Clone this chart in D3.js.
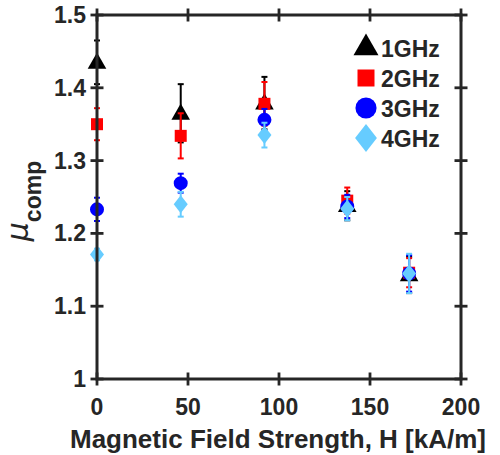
<!DOCTYPE html>
<html>
<head>
<meta charset="utf-8">
<script src="https://cdn.jsdelivr.net/npm/d3@7"></script>
<style>
  body { margin: 0; background: #fff; }
  text { font-family: "Liberation Sans", Arial, sans-serif; font-weight: bold; fill: #262626; }
</style>
</head>
<body>
<div id="chart"></div>
<script>
const fieldH = [0, 46, 92, 137.5, 171.5];
const series = ['1GHz', '2GHz', '3GHz', '4GHz'];
const mu1 = [1.435, 1.365, 1.379, 1.238, 1.143];
const mu2 = [1.350, 1.334, 1.378, 1.245, 1.146];
const mu3 = [1.233, 1.269, 1.356, 1.237, 1.145];
const mu4 = [1.171, 1.240, 1.335, 1.234, 1.145];
const err1 = [0.030, 0.040, 0.036, 0.020, 0.025];
const err2 = [0.022, 0.031, 0.030, 0.018, 0.020];
const err3 = [0.016, 0.013, 0.015, 0.016, 0.025];
const err4 = [0.008, 0.017, 0.017, 0.016, 0.027];
const xTicks = [0, 50, 100, 150, 200];
const yTicks = [1, 1.1, 1.2, 1.3, 1.4, 1.5];

const W = 500, H = 455;
const m = { left: 97, right: 39, top: 15, bottom: 76 };

const svg = d3.select('#chart').append('svg')
    .attr('width', W).attr('height', H);

const x = d3.scaleLinear().domain([0, 200]).range([m.left, W - m.right]);
const y = d3.scaleLinear().domain([1, 1.5]).range([H - m.bottom, m.top]);

const axisColor = '#262626';

// marker look per series
const styles = [
    { color: '#000000', shape: d3.symbolTriangle, size: 150, big: 270 },
    { color: '#ff0000', shape: d3.symbolSquare, size: 144, big: 289 },
    { color: '#0000ff', shape: d3.symbolCircle, size: 154, big: 350 },
    { color: '#66ccff', shape: 'diamond', size: 9, big: 14 }
];
const values = [mu1, mu2, mu3, mu4];
const errors = [err1, err2, err3, err4];

function markerPath(st, big) {
    if (st.shape === 'diamond') {
        const s = big ? st.big : st.size;
        const w = s * 0.78, h = s;
        return `M0,${-h}L${w},0L0,${h}L${-w},0Z`;
    }
    return d3.symbol().type(st.shape).size(big ? st.big : st.size)();
}

// points with error bars
series.forEach((name, i) => {
    const st = styles[i];
    const g = svg.append('g');
    const pts = fieldH.map((h, j) => ({ h, v: values[i][j], e: errors[i][j] }));
    const eb = g.selectAll('g.eb').data(pts).enter().append('g')
        .attr('stroke', st.color).attr('stroke-width', 2);
    eb.append('line')
        .attr('x1', d => x(d.h)).attr('x2', d => x(d.h))
        .attr('y1', d => y(d.v - d.e)).attr('y2', d => y(d.v + d.e));
    eb.append('line')
        .attr('x1', d => x(d.h) - 3).attr('x2', d => x(d.h) + 3)
        .attr('y1', d => y(d.v + d.e)).attr('y2', d => y(d.v + d.e));
    eb.append('line')
        .attr('x1', d => x(d.h) - 3).attr('x2', d => x(d.h) + 3)
        .attr('y1', d => y(d.v - d.e)).attr('y2', d => y(d.v - d.e));
    g.selectAll('path').data(pts).enter().append('path')
        .attr('d', markerPath(st, false))
        .attr('transform', d => `translate(${x(d.h)},${y(d.v) + (st.shape === d3.symbolTriangle ? 1 : 0)})`)
        .attr('fill', st.color);
});

// box + ticks crossing the lines
const x0 = x(0), x1 = x(200), y0 = y(1), y1 = y(1.5);
svg.append('rect')
    .attr('x', x0).attr('y', y1).attr('width', x1 - x0).attr('height', y0 - y1)
    .attr('fill', 'none').attr('stroke', axisColor).attr('stroke-width', 3);

const tl = 6.5;
const tk = svg.append('g').attr('stroke', axisColor).attr('stroke-width', 2.8);
xTicks.forEach(t => {
    tk.append('line').attr('x1', x(t)).attr('x2', x(t)).attr('y1', y0 + tl).attr('y2', y0 - tl);
    tk.append('line').attr('x1', x(t)).attr('x2', x(t)).attr('y1', y1 - tl).attr('y2', y1 + tl);
});
yTicks.forEach(t => {
    tk.append('line').attr('x1', x0 - tl).attr('x2', x0 + tl).attr('y1', y(t)).attr('y2', y(t));
    tk.append('line').attr('x1', x1 + tl).attr('x2', x1 - tl).attr('y1', y(t)).attr('y2', y(t));
});

svg.append('g').selectAll('text').data(xTicks).enter().append('text')
    .attr('x', d => x(d)).attr('y', 415)
    .attr('text-anchor', 'middle').attr('font-size', 23)
    .text(d => d);

svg.append('g').selectAll('text').data(yTicks).enter().append('text')
    .attr('x', x0 - 11).attr('y', d => y(d) + 8)
    .attr('text-anchor', 'end').attr('font-size', 23)
    .text(d => d === 1 ? '1' : d.toFixed(1));

// axis titles
svg.append('text')
    .attr('x', 278).attr('y', 448)
    .attr('text-anchor', 'middle').attr('font-size', 26)
    .text('Magnetic Field Strength, H [kA/m]');

const yl = svg.append('text')
    .attr('transform', `translate(28,${(y0 + y1) / 2 + 4}) rotate(-90)`)
    .attr('text-anchor', 'middle');
yl.append('tspan').attr('font-size', 30).attr('font-weight', 'normal')
    .attr('font-family', '"DejaVu Sans", sans-serif')
    .attr('font-style', 'italic').text('μ');
yl.append('tspan').attr('font-size', 23).attr('dy', 13).text('comp');

// legend
const lg = svg.append('g');
series.forEach((name, i) => {
    const ly = 48 + i * 30;
    lg.append('path')
        .attr('d', markerPath(styles[i], true))
        .attr('transform', `translate(366,${ly})`)
        .attr('fill', styles[i].color);
    lg.append('text')
        .attr('x', 381).attr('y', ly + 9)
        .attr('font-size', 23)
        .text(name);
});
</script>
</body>
</html>
